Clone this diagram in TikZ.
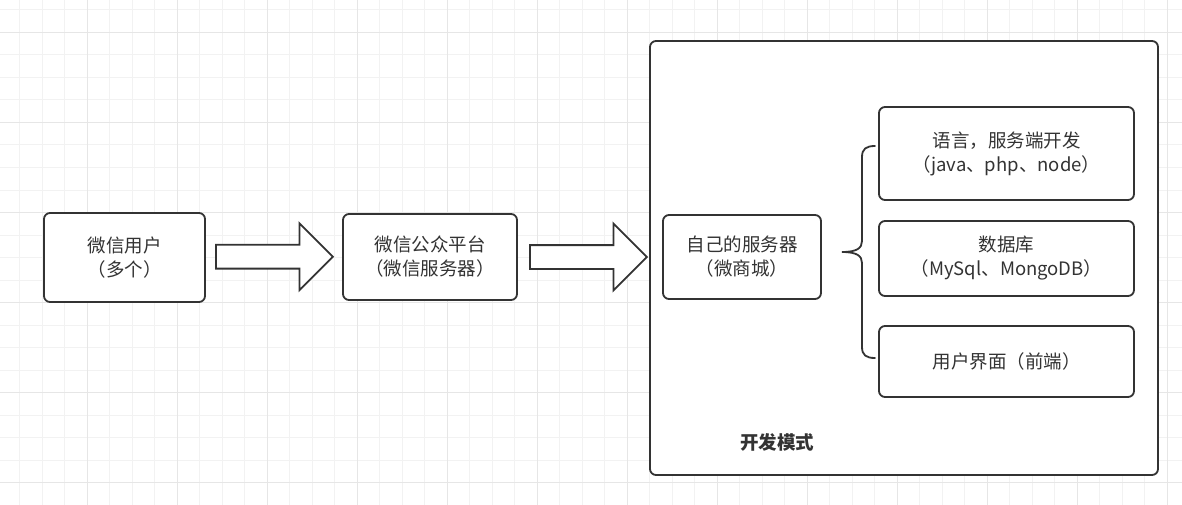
\documentclass[tikz,border=0pt]{standalone}
\usepackage{fontspec}
\setmainfont{Noto Sans CJK SC}
\usetikzlibrary{shapes.arrows}
\definecolor{Ink}{HTML}{333333}
\definecolor{GridMinor}{HTML}{F2F2F2}
\definecolor{GridMajor}{HTML}{E6E6E6}

\begin{document}
\begin{tikzpicture}[x=1pt,y=-1pt,
  box/.style={rounded corners=6pt,draw=Ink,fill=white,line width=1.8pt,inner sep=0pt,align=center,text=Ink,font=\fontsize{18.5}{24}\selectfont},
  frame/.style={rounded corners=6pt,draw=Ink,fill=white,line width=1.8pt,inner sep=0pt},
  title/.style={text=Ink,font=\fontsize{18.5}{24}\selectfont\bfseries},
  bigarrow/.style={single arrow,draw=Ink,fill=white,line width=1.8pt,inner xsep=0pt,inner ysep=11pt,minimum width=65pt,minimum height=117pt,single arrow head extend=21.5pt,anchor=tail},
  brace/.style={draw=Ink,line width=1.8pt,line cap=round},
  minorgrid/.style={draw=GridMinor,line width=1pt},
  majorgrid/.style={draw=GridMajor,line width=1pt}
]
\useasboundingbox (0,0) rectangle (1182,505);
\fill[white] (0,0) rectangle (1182,505);
\foreach \i in {0,...,51} \draw[minorgrid] ({19.8+22.5*\i},0) -- ++(0,505);
\foreach \j in {0,...,22} \draw[minorgrid] (0,{10+22.5*\j}) -- ++(1182,0);
\foreach \i in {0,...,12} \draw[majorgrid] ({87.3+90*\i},0) -- ++(0,505);
\foreach \j in {0,...,5} \draw[majorgrid] (0,{32.7+90*\j}) -- ++(1182,0);

\node[frame,minimum width=508pt,minimum height=434pt] (mode) at (904,258) {};
\node[title] (modelabel) at (777,442) {开发模式};

\node[box,minimum width=161pt,minimum height=89pt] (user) at (124.5,257.5) {微信用户\\（多个）};
\node[box,minimum width=174pt,minimum height=86pt] (mp) at (430,257) {微信公众平台\\（微信服务器）};
\node[box,minimum width=158pt,minimum height=84pt] (server) at (742,257) {自己的服务器\\（微商城）};
\node[box,minimum width=255pt,minimum height=93pt] (lang) at (1006.5,153.5) {语言，服务端开发\\（java、php、node）};
\node[box,minimum width=255pt,minimum height=75pt] (db) at (1006.5,258.5) {数据库\\（MySql、MongoDB）};
\node[box,minimum width=255pt,minimum height=71pt] (ui) at (1006.5,361.5) {用户界面（前端）};

\node[bigarrow] (arr1) at (215,256.7) {};
\node[bigarrow] (arr2) at (529,257) {};

\draw[brace] (875,146) .. controls (866,146) and (862,149) .. (862,157) -- (862,241)
  .. controls (862,248) and (857,252) .. (842,252) .. controls (857,252) and (862,256) .. (862,263)
  -- (862,347) .. controls (862,355) and (866,358) .. (875,358);
\end{tikzpicture}
\end{document}
